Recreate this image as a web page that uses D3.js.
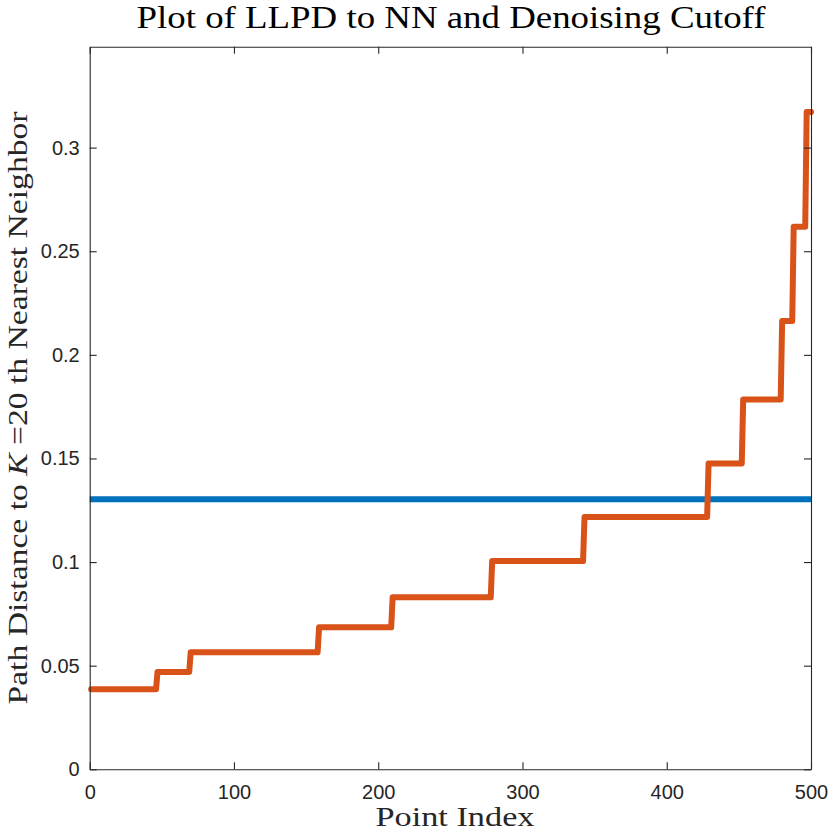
<!DOCTYPE html>
<html>
<head>
<meta charset="utf-8">
<script src="https://cdn.jsdelivr.net/npm/d3@7"></script>
<style>
  html, body { margin: 0; padding: 0; background: #fff; }
  svg { display: block; }
</style>
</head>
<body>
<svg id="chart" width="830" height="833"></svg>
<script>
// ---- data ----
const levelStart = [1, 47, 70, 159, 210, 279, 343, 429, 453, 480, 488, 497];
const levelValue = [0.0386, 0.047, 0.0565, 0.0685, 0.083, 0.1005, 0.1218, 0.1476, 0.1785, 0.2163, 0.2618, 0.3172];
const nPoints = 500;
const cutoff = 0.1303;
const xTicks = [0, 100, 200, 300, 400, 500];
const yTicks = [0, 0.05, 0.1, 0.15, 0.2, 0.25, 0.3];
const yTickLabels = ["0", "0.05", "0.1", "0.15", "0.2", "0.25", "0.3"];
const titleText = "Plot of LLPD to NN and Denoising Cutoff";
const xLabelText = "Point Index";

// ---- layout ----
const mLeft = 89.7, mRight = 811, mTop = 46.7, mBottom = 769.3;
const svg = d3.select("#chart");

const x = d3.scaleLinear().domain([0, 500]).range([mLeft, mRight]);
const y = d3.scaleLinear().domain([0, 0.3487]).range([mBottom, mTop]);

// build step points (each level runs from its start index to the index before the next start)
const pts = [];
levelStart.forEach((s, k) => {
  const e = k < levelStart.length - 1 ? levelStart[k + 1] - 1 : nPoints;
  pts.push([s, levelValue[k]]);
  pts.push([e, levelValue[k]]);
});

const axisColor = "#262626";
const tickFont = "Liberation Sans";
const serif = "Liberation Serif";

// cutoff line (blue)
svg.append("path")
  .datum([[0, cutoff], [500, cutoff]])
  .attr("d", d3.line().x(d => x(d[0])).y(d => y(d[1])))
  .attr("fill", "none")
  .attr("stroke", "#0072BD")
  .attr("stroke-width", 6);

// LLPD curve (orange)
svg.append("path")
  .datum(pts)
  .attr("d", d3.line().x(d => x(d[0])).y(d => y(d[1])))
  .attr("fill", "none")
  .attr("stroke", "#D95319")
  .attr("stroke-width", 6)
  .attr("stroke-linejoin", "round")
  .attr("stroke-linecap", "round");

// axes (box with inward ticks)
const tl = 7;
const gBottom = svg.append("g").attr("transform", `translate(0,${mBottom})`)
  .call(d3.axisBottom(x).tickValues(xTicks).tickSizeInner(-tl).tickSizeOuter(0).tickPadding(16)
        .tickFormat(d3.format("d")));
const gTop = svg.append("g").attr("transform", `translate(0,${mTop})`)
  .call(d3.axisTop(x).tickValues(xTicks).tickSizeInner(-tl).tickSizeOuter(0).tickFormat(""));
const gLeft = svg.append("g").attr("transform", `translate(${mLeft},0)`)
  .call(d3.axisLeft(y).tickValues(yTicks).tickSizeInner(-tl).tickSizeOuter(0).tickPadding(10)
        .tickFormat((d, i) => yTickLabels[i]));
const gRight = svg.append("g").attr("transform", `translate(${mRight},0)`)
  .call(d3.axisRight(y).tickValues(yTicks).tickSizeInner(-tl).tickSizeOuter(0).tickFormat(""));

[gBottom, gTop, gLeft, gRight].forEach(g => {
  g.attr("font-family", null).attr("font-size", null);
  g.select(".domain").attr("stroke", axisColor).attr("stroke-width", 1.1);
  g.selectAll(".tick line").attr("stroke", axisColor).attr("stroke-width", 1.1);
  g.selectAll(".tick text").attr("fill", axisColor)
    .attr("font-family", tickFont).attr("font-size", 20);
});
gBottom.selectAll(".tick text").attr("dy", "0.71em");

// title
svg.append("text")
  .attr("x", 451).attr("y", 28)
  .attr("text-anchor", "middle")
  .attr("textLength", 629).attr("lengthAdjust", "spacingAndGlyphs")
  .attr("font-family", serif).attr("font-size", 32).attr("fill", "#000")
  .text(titleText);

// x label
svg.append("text")
  .attr("x", 455).attr("y", 826)
  .attr("text-anchor", "middle")
  .attr("textLength", 159).attr("lengthAdjust", "spacingAndGlyphs")
  .attr("font-family", serif).attr("font-size", 27).attr("fill", "#262626")
  .text(xLabelText);

// y label
const yl = svg.append("text")
  .attr("transform", `translate(27,${(mTop + mBottom) / 2}) rotate(-90)`)
  .attr("text-anchor", "middle")
  .attr("textLength", 593).attr("lengthAdjust", "spacingAndGlyphs")
  .attr("font-family", serif).attr("font-size", 28).attr("fill", "#262626");
yl.append("tspan").text("Path Distance to ");
yl.append("tspan").attr("font-style", "italic").text("K");
yl.append("tspan").text(" =20 th Nearest Neighbor");
</script>
</body>
</html>
